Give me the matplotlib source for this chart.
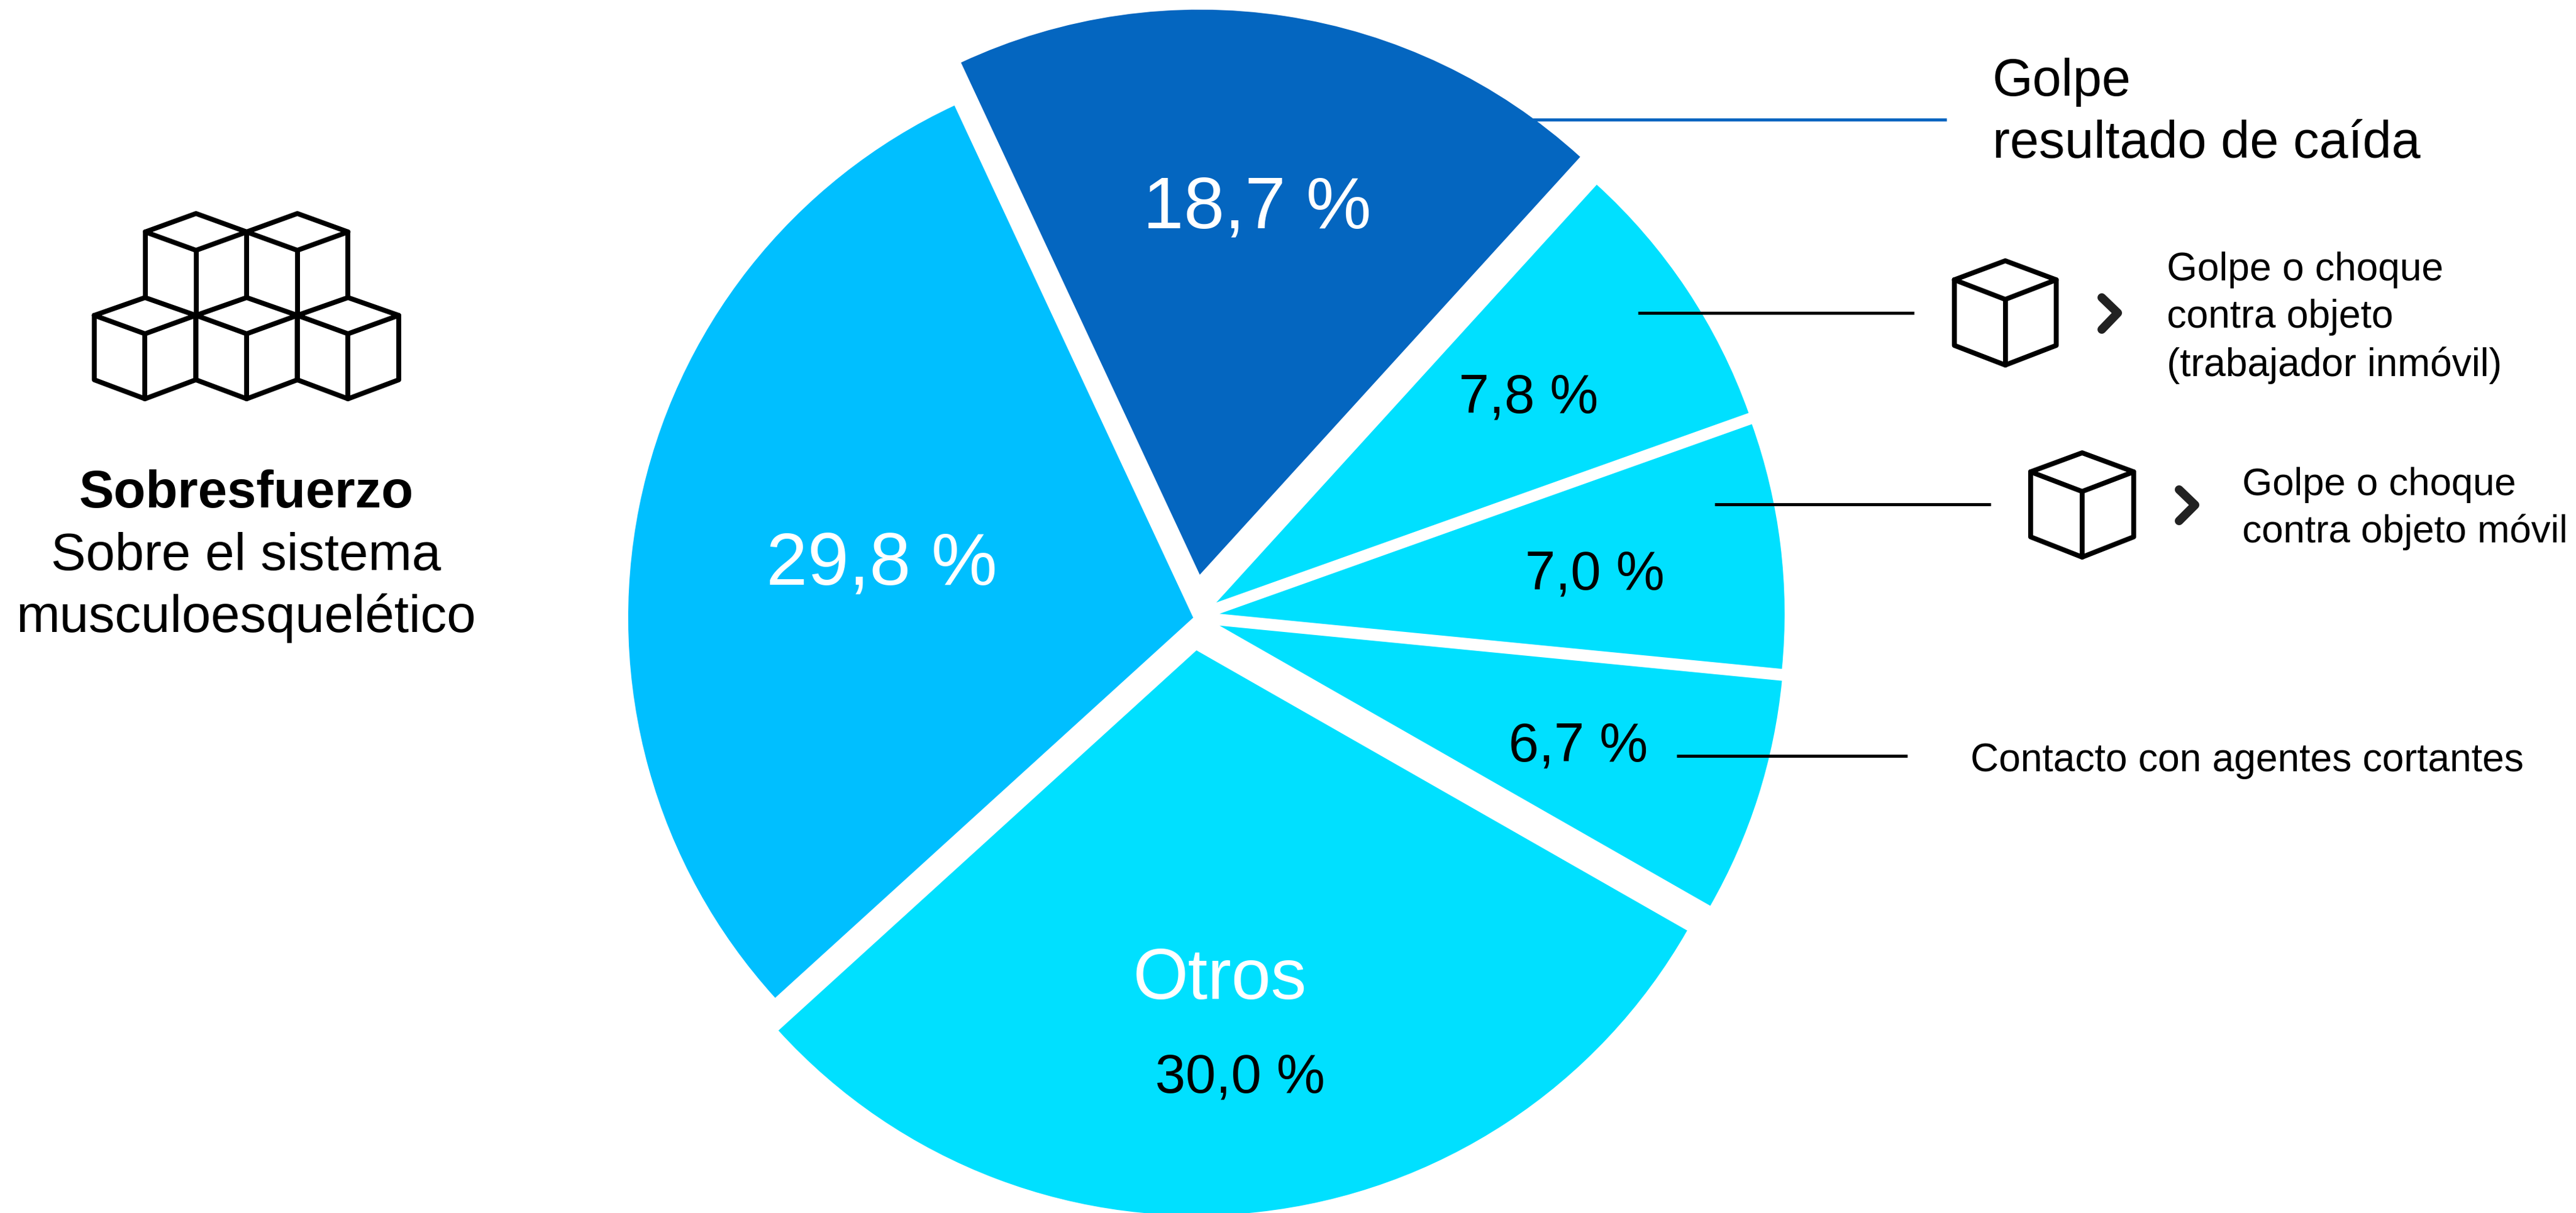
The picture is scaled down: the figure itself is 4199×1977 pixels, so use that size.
import matplotlib
matplotlib.use("Agg")
import matplotlib.pyplot as plt

W, H = 4199, 1977
plt.rcParams['font.family'] = ['Liberation Sans', 'DejaVu Sans']

categories = ["Golpe resultado de caída", "Golpe o choque contra objeto (trabajador inmóvil)",
              "Golpe o choque contra objeto móvil", "Contacto con agentes cortantes",
              "Otros", "Sobresfuerzo"]
values = [18.7, 7.8, 7.0, 6.7, 30.0, 29.8]
value_labels = ["18,7 %", "7,8 %", "7,0 %", "6,7 %", "30,0 %", "29,8 %"]
colors = ["#0466C0", "#00E0FF", "#00E0FF", "#00E0FF", "#00E0FF", "#00BFFF"]
apexes = [(1955.7, 936.7), (1982.7, 982), (1988, 1000.3), (1988, 1019.7), (1950.3, 1060), (1945, 1006.7)]
radius = 921


def Y(y):
    return H - y


fig = plt.figure(figsize=(W / 100, H / 100), dpi=100, facecolor="white")
ax = fig.add_axes([0, 0, 1, 1])
wedges, _ = ax.pie(values, colors=colors, startangle=115, counterclock=False,
                   radius=radius, center=(1950, Y(1012)),
                   wedgeprops=dict(linewidth=0))
for w, (ax_x, ax_y) in zip(wedges, apexes):
    w.set_center((ax_x, Y(ax_y)))
ax.set_xlim(0, W)
ax.set_ylim(0, H)
ax.set_aspect("equal")
ax.axis("off")


def txt(x, y, s, size, color="black", weight="normal", ha="left"):
    ax.text(x, Y(y), s, fontsize=size, color=color, fontweight=weight, ha=ha, va="baseline", zorder=6)


def line(xs, ys, lw=5.0, color="black", cap="butt", z=5):
    ax.plot(xs, [Y(v) for v in ys], color=color, lw=lw * 0.72, solid_capstyle=cap,
            solid_joinstyle="round", zorder=z)


# value labels
txt(1863, 372, value_labels[0], 86, "white")
txt(2378, 672, value_labels[1], 64)
txt(2486, 960, value_labels[2], 64)
txt(2459, 1241, value_labels[3], 64)
txt(1883, 1781, value_labels[4], 64)
txt(1249, 953, value_labels[5], 87, "white")
txt(1846, 1628, "Otros", 83.5, "white")

# left block
txt(401, 827, "Sobresfuerzo", 61.5, weight="bold", ha="center")
txt(401, 929, "Sobre el sistema", 61.5, ha="center")
txt(401, 1030, "musculoesquelético", 61.5, ha="center")

# right labels
txt(3248, 156, "Golpe", 61)
txt(3248, 257, "resultado de caída", 61)
txt(3532, 457, "Golpe o choque", 46)
txt(3532, 534, "contra objeto", 46)
txt(3532, 613, "(trabajador inmóvil)", 46)
txt(3655, 807, "Golpe o choque", 45.5)
txt(3655, 884, "contra objeto móvil", 45.5)
txt(3212, 1257, "Contacto con agentes cortantes", 46)

# leader lines
line([2497, 3173], [195, 195], color="#0466C0")
line([2670, 3120], [510, 510])
line([2795, 3245], [822, 822])
line([2733, 3109], [1232, 1232])


def cube(cx, top, side, mid, low, bottom, hw, lw, full=True):
    l, r = cx - hw, cx + hw
    line([l, cx, r, cx, l], [side, top, side, mid, side], lw, cap="round")
    if full:
        line([l, l, cx, r, r], [side, low, bottom, low, side], lw, cap="round")
        line([cx, cx], [mid, bottom], lw, cap="round")
    else:
        line([l, l], [side, low], lw, cap="round")
        line([r, r], [side, low], lw, cap="round")
        line([cx, cx], [mid, bottom], lw, cap="round")


# big icon
for cx in (236.4, 402.1, 567.3):
    cube(cx, 485, 514, 544, 619, 650, 82.7, 8)
for cx in (319.5, 484.7):
    cube(cx, 348, 378, 408, 483, 514, 82.7, 8, full=False)

# small icons
cube(3268.7, 425, 456, 488, 563, 595, 83, 8)
cube(3394, 738, 769, 801, 875, 908, 84, 8)

# chevrons
line([3426, 3452, 3426], [485, 510, 537], 14, "#222222", "round")
line([3552, 3578, 3552], [798, 823, 849], 14, "#222222", "round")

fig.savefig("out.png", dpi=100, facecolor="white")
